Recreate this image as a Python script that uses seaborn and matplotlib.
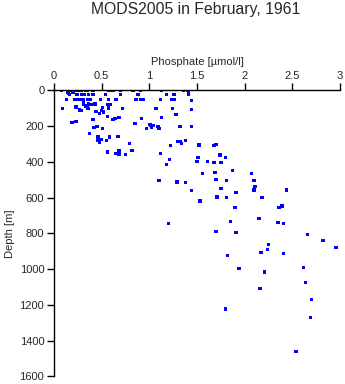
import matplotlib
matplotlib.use("Agg")
import matplotlib.pyplot as plt
import seaborn as sns
import pandas as pd

# Phosphate profiles, February 1961 (MODS2005)
phosphate = [
    0.08, 0.14, 0.15, 0.16, 0.18, 0.20, 0.20, 0.23, 0.25, 0.28, 0.29, 0.33, 0.35, 0.41,
    0.57, 0.60, 0.62, 0.70, 0.83, 0.91,
    0.24, 0.29, 0.32, 0.36, 0.41, 0.54, 0.70, 0.88,
    0.13, 0.22, 0.25, 0.27, 0.29, 0.31, 0.35, 0.38, 0.49, 0.57, 0.65, 0.86, 0.91, 0.94,
    0.31, 0.31, 0.36, 0.39, 0.43, 0.56, 0.59,
    0.09, 0.23, 0.33, 0.35, 0.36, 0.51, 0.57, 0.72,
    0.27, 0.29, 0.44, 0.50, 0.48, 0.52,
    0.56, 0.68, 0.62, 0.64, 0.92, 0.41,
    0.19, 0.23, 0.85, 1.00,
    0.42, 0.45, 0.51, 0.97, 0.37,
    0.46, 0.58, 0.67, 0.46, 0.48, 0.50, 0.55, 0.79,
    0.56, 0.65, 0.68, 0.68, 0.75, 0.82,
    1.13, 1.36, 1.40, 1.41, 1.41, 1.18, 1.26, 1.12, 1.23, 1.26, 1.44,
    1.07, 1.24, 1.44, 1.13, 1.28,
    1.01, 1.02, 1.04, 1.09, 1.10, 1.32, 1.44,
    1.30, 1.32, 1.34, 1.38, 1.22, 1.52, 1.68, 1.70,
    1.12, 1.51, 1.74, 1.80, 1.21, 1.18, 1.50, 1.61, 1.68, 1.75,
    1.87, 1.69, 2.07, 1.56,
    1.10, 1.29, 1.38, 1.70, 1.81, 2.10, 2.11, 2.10, 1.44, 1.75, 1.91, 2.44,
    1.53, 1.71, 1.81, 2.18, 1.90, 2.36, 2.39, 2.15, 1.85, 2.35, 2.41, 1.20,
    1.70, 1.91, 2.66, 2.82, 2.96, 2.25, 2.24, 1.82, 2.17, 2.41,
    1.94, 2.62, 2.21, 2.64, 2.16, 2.70, 1.80, 2.69, 2.54,
]
depth = [
    0, 11, 17, 24, 0, 0, 11, 0, 0, 0, 0, 0, 0, 0,
    0, 0, 0, 0, 0, 0,
    22, 22, 22, 22, 22, 22, 22, 22,
    50, 50, 50, 50, 50, 50, 50, 50, 50, 50, 50, 50, 50, 50,
    67, 76, 76, 80, 76, 78, 78,
    101, 93, 88, 99, 103, 97, 99, 101,
    110, 114, 117, 114, 131, 121,
    146, 151, 162, 158, 157, 162,
    179, 173, 185, 190,
    207, 201, 213, 213, 241,
    257, 261, 257, 278, 289, 276, 280, 297,
    345, 352, 339, 360, 358, 336,
    0, 0, 0, 13, 24, 22, 22, 50, 50, 50, 58,
    101, 101, 108, 151, 134,
    194, 207, 198, 203, 214, 201, 201,
    285, 285, 297, 280, 308, 306, 308, 302,
    352, 375, 362, 375, 386, 414, 397, 397, 403, 403,
    448, 459, 464, 464,
    504, 513, 515, 498, 504, 504, 539, 558, 560, 548, 571, 558,
    619, 597, 599, 599, 657, 655, 647, 716, 733, 738, 744, 744,
    789, 795, 806, 839, 880, 862, 890, 923, 907, 912,
    996, 990, 1016, 1074, 1108, 1169, 1223, 1270, 1460,
]

x_ticks = [0, 0.5, 1, 1.5, 2, 2.5, 3]
x_ticklabels = ["0", "0.5", "1", "1.5", "2", "2.5", "3"]
y_ticks = [0, 200, 400, 600, 800, 1000, 1200, 1400, 1600]

df = pd.DataFrame({"phosphate": phosphate, "depth": depth})

sns.set_style("ticks")
plt.rcParams["font.family"] = ["Liberation Sans", "DejaVu Sans"]

fig = plt.figure(figsize=(3.45, 3.84), dpi=100)
ax = fig.add_axes([0.1565, 0.0201, 0.829, 0.7447])

sns.scatterplot(data=df, x="phosphate", y="depth", marker="s", s=6,
                color="#0000ff", edgecolor="none", linewidth=0, ax=ax)

ax.set_xlim(0, 3)
ax.set_ylim(1600, 0)
ax.set_xticks(x_ticks)
ax.set_xticklabels(x_ticklabels)
ax.set_yticks(y_ticks)

ax.xaxis.set_label_position("top")
ax.xaxis.tick_top()
ax.set_xlabel("Phosphate [µmol/l]", fontsize=8, labelpad=4)
ax.set_ylabel("Depth [m]", fontsize=8, labelpad=3)
ax.tick_params(axis="both", direction="out", length=5, width=1,
               labelsize=8, color="black", pad=2)

for side in ("bottom", "right"):
    ax.spines[side].set_visible(False)
for side in ("top", "left"):
    ax.spines[side].set_linewidth(1)
    ax.spines[side].set_color("black")

fig.text(0.568, 0.996, "MODS2005 in February, 1961", ha="center", va="top",
         fontsize=11.3)

fig.savefig("out.png", dpi=100)
